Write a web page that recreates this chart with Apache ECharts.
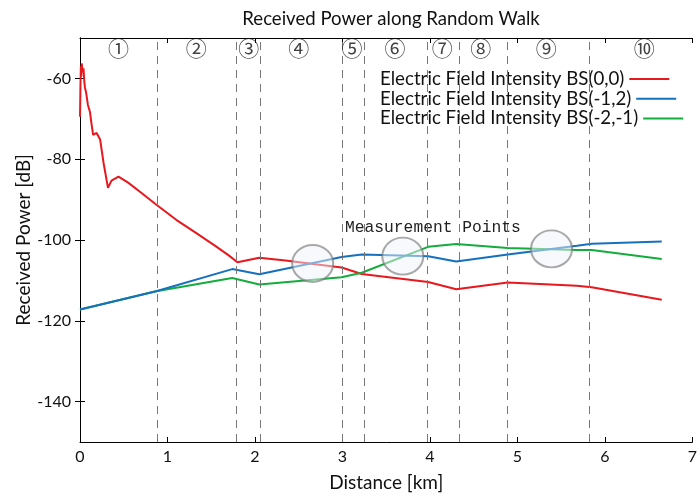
<!DOCTYPE html>
<html>
<head>
<meta charset="utf-8">
<script src="https://cdn.jsdelivr.net/npm/echarts@6/dist/echarts.min.js"></script>
<style>
  html, body { margin: 0; padding: 0; background: #fff; }
</style>
</head>
<body>
<div id="chart" style="width:700px;height:497px;"></div>
<script>
// distance [km], received power [dB]
var redData = [
  [0, -69.5], [0.005, -62], [0.01, -57], [0.015, -59.5], [0.02, -56.3], [0.03, -58.5],
  [0.04, -57.5], [0.05, -61], [0.057, -62.3], [0.07, -63.5], [0.09, -66.5], [0.114, -68.3],
  [0.13, -71], [0.15, -74], [0.19, -73.5], [0.23, -75.1], [0.27, -81], [0.32, -87.1],
  [0.36, -85.3], [0.44, -84.3], [0.55, -85.8], [0.7, -88.3], [0.87, -91.2], [1.1, -95],
  [1.33, -98.3], [1.55, -101.5], [1.7, -103.8], [1.8, -105.5], [2.05, -104.4],
  [2.35, -105.1], [2.69, -106], [2.99, -106.8], [3.22, -108.4], [3.98, -110.4],
  [4.3, -112.2], [4.89, -110.5], [5.68, -111.3], [5.85, -111.7], [6.65, -114.8]
];
var blueData = [
  [0, -117.2], [0.87, -112.7], [1.74, -107.2], [2.05, -108.5], [2.99, -104.2],
  [3.22, -103.6], [3.98, -104], [4.3, -105.3], [4.89, -103.6], [5.68, -101.4],
  [5.85, -100.9], [6.65, -100.4]
];
var greenData = [
  [0, -117.2], [0.87, -112.7], [1.74, -109.4], [2.05, -111], [2.99, -109.2],
  [3.22, -108.1], [3.98, -101.7], [4.3, -101], [4.89, -102], [5.68, -102.5],
  [5.85, -102.5], [6.65, -104.7]
];
var boundaries = [0.88, 1.79, 2.06, 3.0, 3.25, 3.97, 4.33, 4.88, 5.82];
var regionLabels = ['①', '②', '③', '④', '⑤', '⑥', '⑦', '⑧', '⑨', '⑩'];
var regionX = [0.44, 1.33, 1.93, 2.5, 3.11, 3.6, 4.14, 4.58, 5.33, 6.45];
var regionY = -52.6;
var measurePoints = [[2.66, -105.8], [3.69, -104], [5.39, -102.2]];
var yTicks = [-140, -120, -100, -80, -60];
var seriesNames = [
  'Electric Field Intensity BS(0,0)',
  'Electric Field Intensity BS(-1,2)',
  'Electric Field Intensity BS(-2,-1)'
];

var chart = echarts.init(document.getElementById('chart'));
var font = 'Lato, "Noto Sans", sans-serif';

var axisCommon = {
  axisLine: { show: true, lineStyle: { color: '#000', width: 1 } },
  axisTick: { show: true, inside: true, length: 5, lineStyle: { color: '#000' } },
  splitLine: { show: false }
};

// one legend per row so every text starts at the same x, line after it
var legends = seriesNames.map(function (name, i) {
  return {
    data: [name],
    align: 'right',
    left: 375,
    top: 64 + i * 19.7,
    icon: 'rect',
    itemWidth: 40,
    itemHeight: 2,
    textStyle: { fontFamily: font, fontSize: 18.7, lineHeight: 20, color: '#111' }
  };
});

var option = {
  animation: false,
  backgroundColor: '#fff',
  title: {
    text: 'Received Power along Random Walk',
    left: 386,
    textAlign: 'center',
    top: 4,
    textStyle: { fontFamily: font, fontSize: 18.6, fontWeight: 'normal', color: '#111' }
  },
  legend: legends,
  grid: { left: 80, right: 6, top: 38, bottom: 45 },
  xAxis: [
    Object.assign({}, axisCommon, {
      type: 'value', min: 0, max: 7, interval: 1,
      name: 'Distance [km]', nameLocation: 'middle', nameGap: 31,
      nameTextStyle: { fontFamily: font, fontSize: 19, color: '#111' },
      axisLabel: { fontFamily: font, fontSize: 16, color: '#111', margin: 7 }
    }),
    Object.assign({}, axisCommon, {
      type: 'value', min: 0, max: 7, interval: 1, position: 'top',
      axisLabel: { show: false }
    })
  ],
  yAxis: [
    Object.assign({}, axisCommon, {
      type: 'value', min: -150, max: -50,
      name: 'Received Power [dB]', nameLocation: 'middle', nameGap: 47,
      nameMoveOverlap: false,
      nameTextStyle: { fontFamily: font, fontSize: 19, color: '#111' },
      axisLabel: { fontFamily: font, fontSize: 16, color: '#111', margin: 9, customValues: yTicks },
      axisTick: { show: true, inside: true, length: 5, lineStyle: { color: '#000' }, customValues: yTicks }
    }),
    Object.assign({}, axisCommon, {
      type: 'value', min: -150, max: -50, position: 'right',
      axisLabel: { show: false, customValues: yTicks },
      axisTick: { show: true, inside: true, length: 5, lineStyle: { color: '#000' }, customValues: yTicks }
    })
  ],
  series: [
    {
      name: seriesNames[0], type: 'line', data: redData, showSymbol: false,
      lineStyle: { color: '#e8181f', width: 2 }, itemStyle: { color: '#e8181f' },
      z: 3,
      markLine: {
        silent: true, symbol: 'none', label: { show: false },
        lineStyle: { color: '#777', type: [8, 6], width: 1 },
        data: boundaries.map(function (b) { return { xAxis: b }; })
      }
    },
    {
      name: seriesNames[2], type: 'line', data: greenData, showSymbol: false,
      lineStyle: { color: '#14ac3c', width: 2 }, itemStyle: { color: '#14ac3c' }, z: 3
    },
    {
      name: seriesNames[1], type: 'line', data: blueData, showSymbol: false,
      lineStyle: { color: '#1570c0', width: 2 }, itemStyle: { color: '#1570c0' }, z: 3
    },
    {
      type: 'scatter', data: measurePoints, symbol: 'circle', symbolSize: [41, 37],
      silent: true, z: 5,
      itemStyle: {
        color: 'rgba(238,243,248,0.62)',
        borderColor: 'rgba(120,120,120,0.8)', borderWidth: 2
      }
    },
    {
      type: 'scatter', silent: true, symbolSize: 1, z: 6,
      itemStyle: { color: 'rgba(0,0,0,0)' },
      data: regionX.map(function (x, i) { return [x, regionY, regionLabels[i]]; }),
      label: {
        show: true, position: 'inside',
        formatter: function (p) { return p.data[2]; },
        fontFamily: '"Noto Sans CJK JP", sans-serif', fontSize: 21, color: '#111'
      }
    }
  ],
  graphic: [
    {
      type: 'text', left: 345, top: 220, silent: true,
      style: {
        text: 'Measurement Points',
        font: '16.3px "Liberation Mono", monospace',
        fill: '#222'
      }
    }
  ]
};

chart.setOption(option);
</script>
</body>
</html>
